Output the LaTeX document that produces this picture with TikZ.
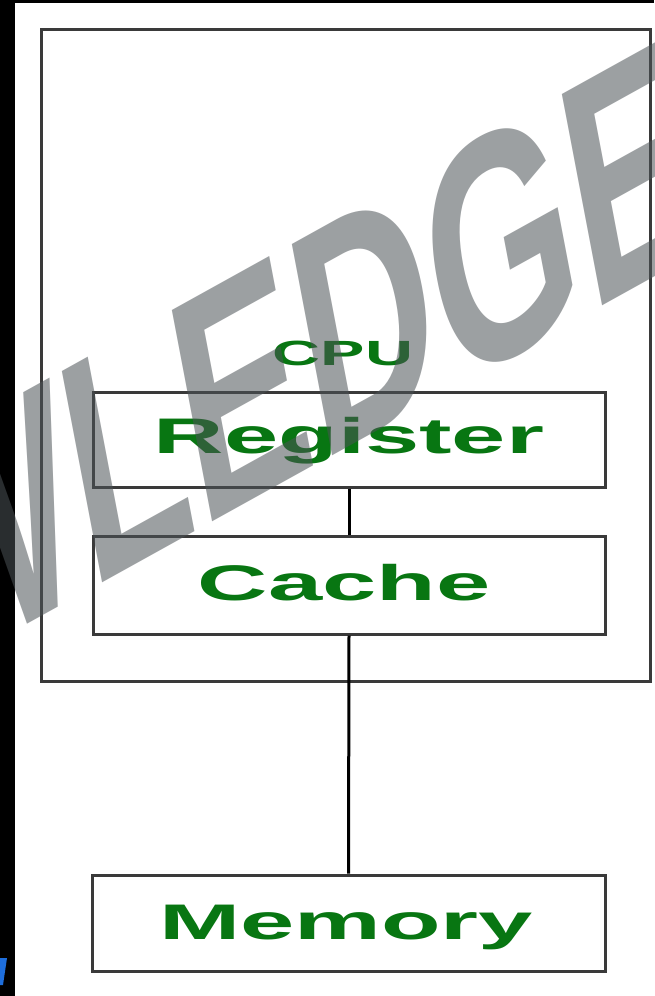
\documentclass[tikz,border=0pt]{standalone}
\usepackage{fontspec}
\setmainfont{Liberation Sans}
\definecolor{txtgreen}{RGB}{8,118,18}
\definecolor{boxgray}{RGB}{58,58,58}
\definecolor{wmgray}{RGB}{76,82,86}
\definecolor{markblue}{RGB}{30,110,220}
\begin{document}
\begin{tikzpicture}[x=1pt,y=-1pt,
  boxnode/.style={draw=boxgray, line width=3pt, fill=none, inner sep=0pt},
  biglabel/.style={text=txtgreen, font=\fontsize{50}{60}\selectfont\bfseries, inner sep=0pt, anchor=base},
  cpulabel/.style={text=txtgreen, font=\fontsize{35}{42}\selectfont\bfseries, inner sep=0pt, anchor=base},
  link/.style={black, line width=3pt}]
\useasboundingbox (0,0) rectangle (654,996);
\fill[black] (0,0) rectangle (654,996);
\fill[white] (15,3) rectangle (654,996);
% outer CPU box
\node[boxnode, minimum width=609pt, minimum height=652pt] (cpu) at (346,355.5) {};
\node[cpulabel] (cput) at (343,365) {\scalebox{1.9}[1]{CPU}};
% inner boxes
\node[boxnode, minimum width=512pt, minimum height=95pt] (reg) at (349,440) {};
\node[biglabel] (regt) at (349,453) {\scalebox{1.95}[1]{Register}};
\node[boxnode, minimum width=512pt, minimum height=98pt] (cache) at (349,585) {};
\node[biglabel] (cachet) at (344,600) {\scalebox{1.95}[1]{Cache}};
\node[boxnode, minimum width=513pt, minimum height=96pt] (mem) at (348.5,923) {};
\node[biglabel] (memt) at (346,939) {\scalebox{1.95}[1]{Memory}};
% connectors
\draw[link] (reg.south) -- (cache.north);
\draw[link] (cache.south) -- (mem.north);
% blue fragment
\fill[markblue] (0,958) -- (7,958) -- (3,985) -- (0,985) -- cycle;
% watermark
\begin{scope}
\clip (0,0) rectangle (654,996);
\begin{scope}[shift={(-80,684)}, xscale=0.586, rotate=18]
\node[transform shape, text=wmgray, opacity=0.55, font=\fontsize{323}{323}\selectfont\bfseries, inner sep=0pt, anchor=base west] (wm) at (0,0) {WLEDGE};
\end{scope}
\end{scope}
\end{tikzpicture}
\end{document}
